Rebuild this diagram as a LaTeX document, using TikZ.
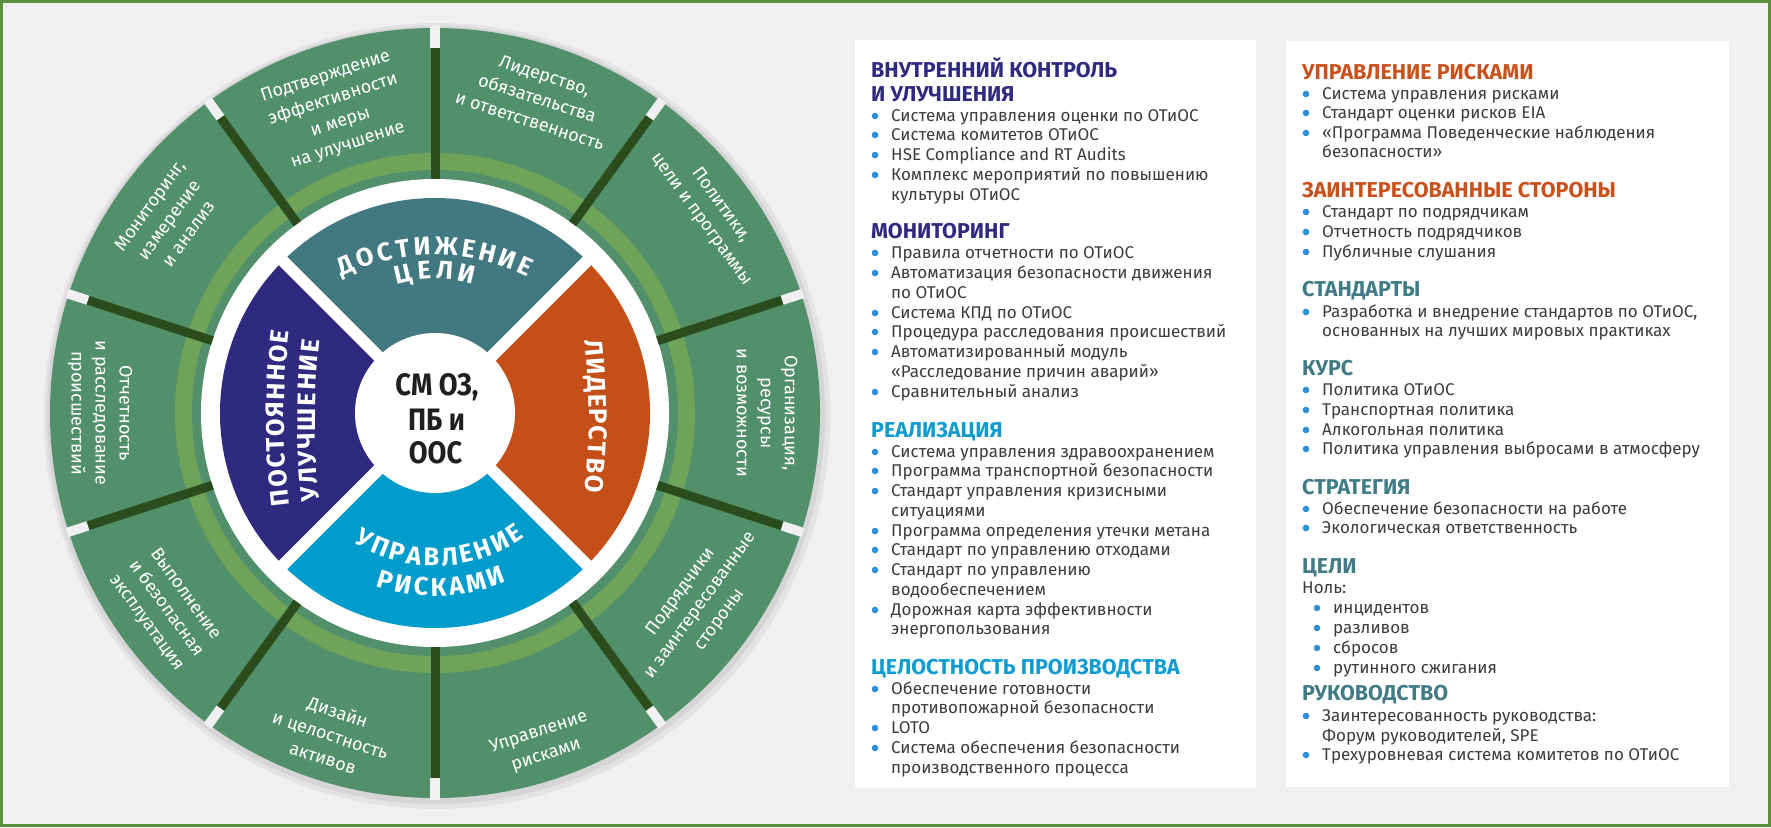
\documentclass[tikz,border=0pt]{standalone}
\usepackage{fontspec}
\setmainfont{Fira Sans}
\newfontfamily\condfont{Fira Sans}[FakeStretch=0.88]
\usetikzlibrary{decorations.text}
\definecolor{bg}{HTML}{F0F0F0}
\definecolor{framegreen}{HTML}{5E8E3F}
\definecolor{seg}{HTML}{52906B}
\definecolor{band}{HTML}{6FA35A}
\definecolor{divider}{HTML}{2B4C1C}
\definecolor{qteal}{HTML}{42787F}
\definecolor{qorange}{HTML}{C54F18}
\definecolor{qblue}{HTML}{009CCB}
\definecolor{qpurple}{HTML}{2F2A7F}
\definecolor{hcyan}{HTML}{0E9BD0}
\definecolor{horange}{HTML}{C9511C}
\definecolor{hteal}{HTML}{417C86}
\definecolor{bodytext}{HTML}{3C3C3C}
\definecolor{bulletblue}{HTML}{2E8FD6}
\newcommand\qfont{\fontsize{25.5}{26}\selectfont\bfseries}
\newcommand\hdline[4]{\node[hd, text=#1] at (#2,-#3) {#4};}
\newcommand\bitem[3]{\fill[bulletblue] (#1-16,-#2+5) circle (3.3); \node[bodyline] at (#1,-#2) {#3};}
\newcommand\titem[3]{\node[bodyline] at (#1,-#2) {#3};}
\begin{document}
\begin{tikzpicture}[x=1pt,y=1pt,
  hd/.style={anchor=base west, inner sep=0pt, font=\fontsize{21.5}{24}\selectfont\bfseries},
  bodyline/.style={anchor=base west, inner sep=0pt, text=bodytext, font=\fontsize{17}{20}\selectfont},
  seglabel/.style={text=white, align=center, inner sep=0pt, font=\fontsize{18}{24}\selectfont},
  centertext/.style={anchor=base, inner sep=0pt, text=black!88, font=\condfont\fontsize{31}{34}\selectfont\bfseries}]
\useasboundingbox (0,0) rectangle (1771,-827);
\fill[bg] (0,0) rectangle (1771,-827);
\draw[framegreen, line width=3] (1.5,-1.5) rectangle (1769.5,-825.5);

% ---------------- wheel ----------------
\begin{scope}[shift={(435,-413)}]
  \fill[black, opacity=0.05] (2,-3) circle (393);
  \fill[black, opacity=0.06] (1,-2) circle (389);
  \fill[seg] (0,0) circle (385);
  \fill[band] (0,0) circle (260);
  \fill[seg] (0,0) circle (243);
  \fill[white] (0,0) circle (234);
  \foreach \a in {18,54,...,342} {
    \draw[divider, line width=9] (\a:234) -- (\a:365);
    \draw[bg, line width=9.5] (\a:365) -- (\a:387);
  }
  % quadrants
  \fill[qteal]   (0,0) -- (45:215)  arc[start angle=45,  end angle=135, radius=215] -- cycle;
  \fill[qpurple] (0,0) -- (135:215) arc[start angle=135, end angle=225, radius=215] -- cycle;
  \fill[qblue]   (0,0) -- (225:215) arc[start angle=225, end angle=315, radius=215] -- cycle;
  \fill[qorange] (0,0) -- (315:215) arc[start angle=315, end angle=405, radius=215] -- cycle;
  \draw[white, line width=12] (45:222) -- (225:222);
  \draw[white, line width=12] (135:222) -- (315:222);
  \fill[white] (0,0) circle (80);
  \node[centertext] (c1) at (2,18) {СМ ОЗ,};
  \node[centertext] (c2) at (1.5,-17) {ПБ и};
  \node[centertext] (c3) at (0.5,-50) {ООС};

  % quadrant texts along paths
  \path[decorate, decoration={text along path, text color=white, text align={fit to path},
        text={|\qfont|ДОСТИЖЕНИЕ}}]
        (-93,136.3) arc[start angle=116.3, end angle=63.7, radius=210];
  \path[decorate, decoration={text along path, text color=white, text align={fit to path},
        text={|\qfont|ЦЕЛИ}}]
        (106.5:134) arc[start angle=106.5, end angle=73.5, radius=134];
  \path[decorate, decoration={text along path, text color=white, text align={fit to path},
        text={|\qfont|УПРАВЛЕНИЕ}}]
        (-122:153) arc[start angle=-122, end angle=-54, radius=153];
  \path[decorate, decoration={text along path, text color=white, text align={fit to path},
        text={|\qfont|РИСКАМИ}}]
        (-109:183) arc[start angle=-109, end angle=-67, radius=183];
  \path[decorate, decoration={text along path, text color=white, text align={fit to path},
        text={|\qfont|ЛИДЕРСТВО}}]
        (149.9,73) arc[start angle=6.23, end angle=-6.23, radius=700];
  \path[decorate, decoration={text along path, text color=white, text align={fit to path},
        text={|\qfont|ПОСТОЯННОЕ}}]
        (-145.6,-92) arc[start angle=187.14, end angle=172.86, radius=700];
  \path[decorate, decoration={text along path, text color=white, text align={fit to path},
        text={|\qfont|УЛУЧШЕНИЕ}}]
        (-115.4,-87) arc[start angle=186.56, end angle=173.44, radius=700];

  % outer segment labels
  \node[seglabel, rotate=18]  (s1)  at (108:317.5) {Подтверждение\\эффективности\\и меры\\на улучшение};
  \node[seglabel, rotate=-18] (s2)  at (72:331)    {Лидерство,\\обязательства\\и ответственность};
  \node[seglabel, rotate=-54] (s3)  at (36:341)    {Политики,\\цели и программы};
  \node[seglabel, rotate=-90] (s4)  at (0:332)     {Организация,\\ресурсы\\и возможности};
  \node[seglabel, rotate=54]  (s5)  at (-36:328)   {Подрядчики\\и заинтересованные\\стороны};
  \node[seglabel, rotate=18]  (s6)  at (-72:348)   {Управление\\рисками};
  \node[seglabel, rotate=-18] (s7)  at (-108:338)  {Дизайн\\и целостность\\активов};
  \node[seglabel, rotate=-54] (s8)  at (-144:333)  {Выполнение\\и безопасная\\эксплуатация};
  \node[seglabel, rotate=-90] (s9)  at (180:335)   {Отчетность\\и расследование\\происшествий};
  \node[seglabel, rotate=54]  (s10) at (144:329)   {Мониторинг,\\измерение\\и анализ};
\end{scope}

% ---------------- panel 1 ----------------
\fill[white] (855,-40) rectangle (1256,-788);
\hdline{qpurple}{871}{77}{ВНУТРЕННИЙ КОНТРОЛЬ}
\hdline{qpurple}{871}{101}{И УЛУЧШЕНИЯ}
\bitem{891}{121}{Система управления оценки по ОТиОС}
\bitem{891}{140}{Система комитетов ОТиОС}
\bitem{891}{160}{HSE Compliance and RT Audits}
\bitem{891}{180}{Комплекс мероприятий по повышению}
\titem{891}{200}{культуры ОТиОС}
\hdline{qpurple}{871}{238}{МОНИТОРИНГ}
\bitem{891}{258}{Правила отчетности по ОТиОС}
\bitem{891}{278}{Автоматизация безопасности движения}
\titem{891}{298}{по ОТиОС}
\bitem{891}{318}{Система КПД по ОТиОС}
\bitem{891}{337}{Процедура расследования происшествий}
\bitem{891}{357}{Автоматизированный модуль}
\titem{891}{377}{«Расследование причин аварий»}
\bitem{891}{397}{Сравнительный анализ}
\hdline{hcyan}{871}{437}{РЕАЛИЗАЦИЯ}
\bitem{891}{457}{Система управления здравоохранением}
\bitem{891}{476}{Программа транспортной безопасности}
\bitem{891}{496}{Стандарт управления кризисными}
\titem{891}{516}{ситуациями}
\bitem{891}{536}{Программа определения утечки метана}
\bitem{891}{555}{Стандарт по управлению отходами}
\bitem{891}{575}{Стандарт по управлению}
\titem{891}{595}{водообеспечением}
\bitem{891}{615}{Дорожная карта эффективности}
\titem{891}{634}{энергопользования}
\hdline{hcyan}{871}{674}{ЦЕЛОСТНОСТЬ ПРОИЗВОДСТВА}
\bitem{891}{694}{Обеспечение готовности}
\titem{891}{713}{противопожарной безопасности}
\bitem{891}{733}{LOTO}
\bitem{891}{753}{Система обеспечения безопасности}
\titem{891}{773}{производственного процесса}

% ---------------- panel 2 ----------------
\fill[white] (1286,-41) rectangle (1729,-787);
\hdline{horange}{1302}{79}{УПРАВЛЕНИЕ РИСКАМИ}
\bitem{1322}{99}{Система управления рисками}
\bitem{1322}{118}{Стандарт оценки рисков EIA}
\bitem{1322}{138}{«Программа Поведенческие наблюдения}
\titem{1322}{157}{безопасности»}
\hdline{horange}{1302}{197}{ЗАИНТЕРЕСОВАННЫЕ СТОРОНЫ}
\bitem{1322}{217}{Стандарт по подрядчикам}
\bitem{1322}{237}{Отчетность подрядчиков}
\bitem{1322}{257}{Публичные слушания}
\hdline{hteal}{1302}{296}{СТАНДАРТЫ}
\bitem{1322}{317}{Разработка и внедрение стандартов по ОТиОС,}
\titem{1322}{336}{основанных на лучших мировых практиках}
\hdline{hteal}{1302}{375}{КУРС}
\bitem{1322}{395}{Политика ОТиОС}
\bitem{1322}{415}{Транспортная политика}
\bitem{1322}{435}{Алкогольная политика}
\bitem{1322}{454}{Политика управления выбросами в атмосферу}
\hdline{hteal}{1302}{494}{СТРАТЕГИЯ}
\bitem{1322}{514}{Обеспечение безопасности на работе}
\bitem{1322}{533}{Экологическая ответственность}
\hdline{hteal}{1302}{573}{ЦЕЛИ}
\titem{1302}{593}{Ноль:}
\bitem{1333}{613}{инцидентов}
\bitem{1333}{633}{разливов}
\bitem{1333}{653}{сбросов}
\bitem{1333}{673}{рутинного сжигания}
\hdline{hteal}{1302}{700}{РУКОВОДСТВО}
\bitem{1322}{721}{Заинтересованность руководства:}
\titem{1322}{741}{Форум руководителей, SPE}
\bitem{1322}{760}{Трехуровневая система комитетов по ОТиОС}
\end{tikzpicture}
\end{document}
